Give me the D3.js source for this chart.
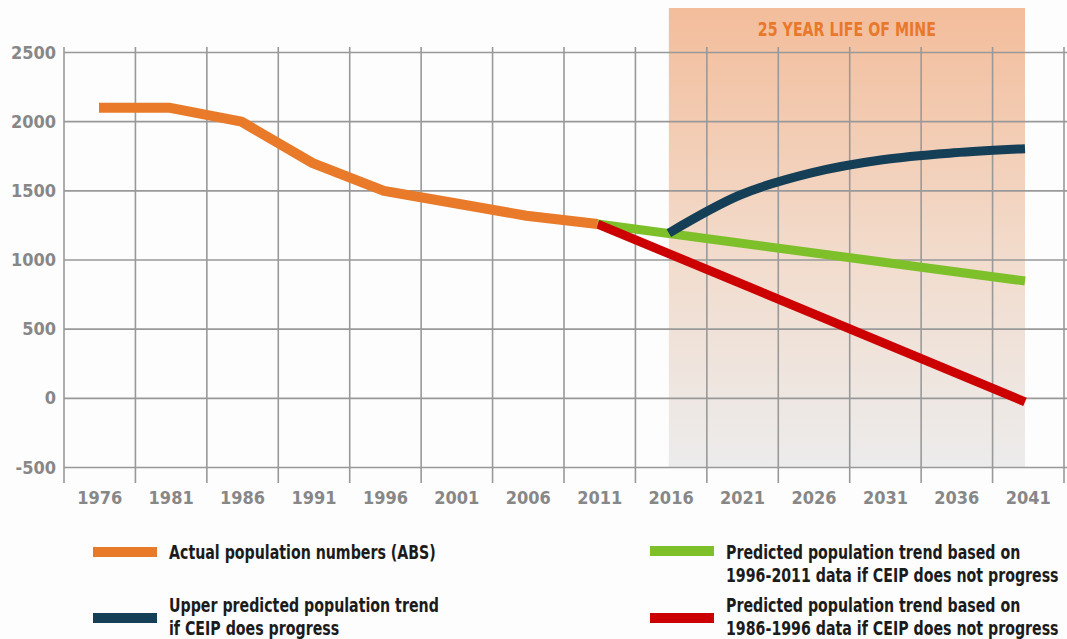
<!DOCTYPE html>
<html>
<head>
<meta charset="utf-8">
<script src="https://cdn.jsdelivr.net/npm/d3@7"></script>
<style>
  body { margin: 0; background: #fdfdfd; }
  svg text { font-family: "Liberation Sans Narrow", "DejaVu Sans Condensed", "Roboto Condensed", sans-serif; font-weight: bold; }
</style>
</head>
<body>
<script>
var width = 1067,
    height = 639;

// data
var years = ["1976", "1981", "1986", "1991", "1996", "2001", "2006", "2011",
             "2016", "2021", "2026", "2031", "2036", "2041"];
var yTicks = [-500, 0, 500, 1000, 1500, 2000, 2500];

var actualYears = ["1976", "1981", "1986", "1991", "1996", "2001", "2006", "2011"];
var actualValues = [2100, 2100, 2000, 1700, 1500, 1410, 1320, 1260];

var upperYears = ["2016", "2021", "2026", "2031", "2036", "2041"];
var upperValues = [1195, 1470, 1630, 1725, 1775, 1805];

var greenYears = ["2011", "2041"];
var greenValues = [1260, 848];

var redYears = ["2011", "2041"];
var redValues = [1260, -25];

var mineYears = ["2016", "2041"];
var mineLabel = "25 YEAR LIFE OF MINE";

var svg = d3.select("body")
    .append("svg")
    .attr("width", width)
    .attr("height", height);

// band scale for grid cells and labels, point scale for the data
var x = d3.scaleBand()
    .domain(years)
    .range([64, 1064]);

var px = d3.scalePoint()
    .domain(years)
    .range([99, 1025]);

var y = d3.scaleLinear()
    .domain([-500, 2500])
    .range([467.5, 52.5]);

function cx(yr) { return x(yr) + x.bandwidth() / 2; }

// squeeze text into a narrower face
function condense(sel, f) {
    sel.each(function () {
        var len = this.getComputedTextLength();
        d3.select(this)
            .attr("textLength", len * f)
            .attr("lengthAdjust", "spacingAndGlyphs");
    });
}

// shaded life-of-mine box
var defs = svg.append("defs");
var grad = defs.append("linearGradient")
    .attr("id", "mine")
    .attr("x1", 0).attr("y1", 0).attr("x2", 0).attr("y2", 1);
grad.append("stop").attr("offset", "0%").attr("stop-color", "#f3bd9b");
grad.append("stop").attr("offset", "55%").attr("stop-color", "#f2dccd");
grad.append("stop").attr("offset", "100%").attr("stop-color", "#ececec");

svg.append("rect")
    .attr("x", px(mineYears[0]))
    .attr("y", 8)
    .attr("width", px(mineYears[1]) - px(mineYears[0]))
    .attr("height", y(-500) - 8)
    .attr("fill", "url(#mine)");

svg.append("text")
    .attr("x", (px(mineYears[0]) + px(mineYears[1])) / 2)
    .attr("y", 36)
    .attr("text-anchor", "middle")
    .attr("fill", "#e8782c")
    .style("font-size", "20px")
    .text(mineLabel)
    .call(condense, 0.79);

// grid
var grid = svg.append("g").attr("stroke", "#999").attr("stroke-width", 1.6);

grid.selectAll(".h")
    .data(yTicks)
    .enter().append("line")
    .attr("x1", 64).attr("x2", width)
    .attr("y1", d => y(d)).attr("y2", d => y(d));

grid.selectAll(".v")
    .data(d3.range(years.length + 1))
    .enter().append("line")
    .attr("x1", d => 64 + d * x.bandwidth())
    .attr("x2", d => 64 + d * x.bandwidth())
    .attr("y1", 47)
    .attr("y2", 483);

// axis labels
svg.selectAll(".ylab")
    .data(yTicks)
    .enter().append("text")
    .attr("x", 56)
    .attr("y", d => y(d) + 6)
    .attr("text-anchor", "end")
    .attr("fill", "#878787")
    .style("font-size", "18px")
    .text(d => d);

svg.selectAll(".xlab")
    .data(years)
    .enter().append("text")
    .attr("x", d => cx(d))
    .attr("y", 504)
    .attr("text-anchor", "middle")
    .attr("fill", "#878787")
    .style("font-size", "18px")
    .text(d => d);

// lines
var line = d3.line()
    .x(d => px(d[0]))
    .y(d => y(d[1]));

var smooth = d3.line()
    .x(d => px(d[0]))
    .y(d => y(d[1]))
    .curve(d3.curveMonotoneX);

function pairs(ys, vs) { return ys.map((v, i) => [v, vs[i]]); }

svg.append("path")
    .attr("d", line(pairs(greenYears, greenValues)))
    .attr("fill", "none").attr("stroke", "#7dc02a").attr("stroke-width", 9);

svg.append("path")
    .attr("d", line(pairs(redYears, redValues)))
    .attr("fill", "none").attr("stroke", "#cc0000").attr("stroke-width", 9);

svg.append("path")
    .attr("d", smooth(pairs(upperYears, upperValues)))
    .attr("fill", "none").attr("stroke", "#143f57").attr("stroke-width", 9);

svg.append("path")
    .attr("d", line(pairs(actualYears, actualValues)))
    .attr("fill", "none").attr("stroke", "#e87a29").attr("stroke-width", 10)
    .attr("stroke-linejoin", "round");

// legend
var legend = [
    {color: "#e87a29", x: 93, y: 552, lines: ["Actual population numbers (ABS)"], ty: 559},
    {color: "#143f57", x: 93, y: 618, lines: ["Upper predicted population trend", "if CEIP does progress"], ty: 612},
    {color: "#7dc02a", x: 650, y: 551, lines: ["Predicted population trend based on", "1996-2011 data if CEIP does not progress"], ty: 559},
    {color: "#cc0000", x: 650, y: 618, lines: ["Predicted population trend based on", "1986-1996 data if CEIP does not progress"], ty: 612}
];

var lg = svg.selectAll(".legend")
    .data(legend)
    .enter().append("g");

lg.append("rect")
    .attr("x", d => d.x)
    .attr("y", d => d.y - 5)
    .attr("width", 64)
    .attr("height", 10)
    .attr("fill", d => d.color);

lg.each(function (d) {
    var g = d3.select(this);
    d.lines.forEach(function (t, i) {
        g.append("text")
            .attr("x", d.x + 76)
            .attr("y", d.ty + i * 23)
            .attr("fill", "#1b1b1b")
            .style("font-size", "19px")
            .text(t)
            .call(condense, 0.83);
    });
});
</script>
</body>
</html>
